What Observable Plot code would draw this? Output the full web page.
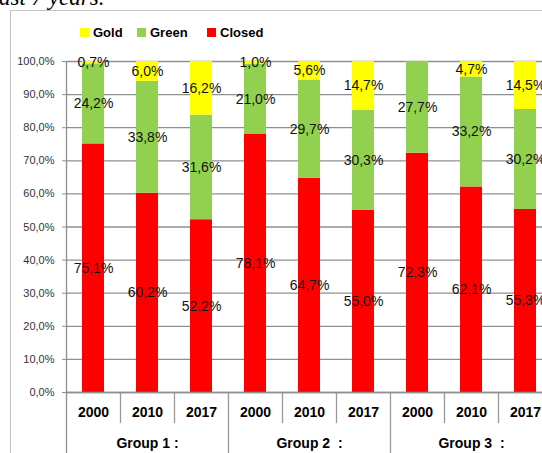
<!DOCTYPE html>
<html><head><meta charset="utf-8">
<script src="https://cdn.jsdelivr.net/npm/d3@7"></script>
<script src="https://cdn.jsdelivr.net/npm/@observablehq/plot@0.6"></script>
<style>
html,body{margin:0;padding:0;background:#fff;overflow:hidden;}
#wrap{position:relative;width:542px;height:453px;overflow:hidden;font-family:"Liberation Sans",Arial,sans-serif;}
#box{position:absolute;left:10px;top:10px;width:600px;height:500px;border:1px solid #c4c4c4;}
#above{position:absolute;left:-1px;top:-13px;font:italic 23px/22px "Liberation Serif",serif;white-space:nowrap;color:#000;}
.lg{position:absolute;top:26px;font-weight:bold;font-size:13px;line-height:14px;color:#000;white-space:nowrap;}
.sw{display:inline-block;width:9px;height:9px;margin-right:4px;vertical-align:0px;}
#chart{position:absolute;left:0;top:0;width:560px;height:453px;}
#chart svg{max-width:none !important;}
</style></head>
<body>
<div id="wrap">
  <div id="above">ast 7 years.</div>
  <div id="box"></div>
  <div id="legend"></div>
  <div id="chart"></div>
</div>
<script>
const groups = ["Group 1 :", "Group 2\u00a0\u00a0:", "Group 3\u00a0\u00a0:"];
const years = ["2000", "2010", "2017"];
const seriesNames = ["Gold", "Green", "Closed"];
const seriesColors = ["#ffff00", "#92d050", "#ff0000"];
const closed = [75.1, 60.2, 52.2, 78.1, 64.7, 55.0, 72.3, 62.1, 55.3];
const green  = [24.2, 33.8, 31.6, 21.0, 29.7, 30.3, 27.7, 33.2, 30.2];
const gold   = [0.7, 6.0, 16.2, 1.0, 5.6, 14.7, 0, 4.7, 14.5];
const yTicks = [0, 10, 20, 30, 40, 50, 60, 70, 80, 90, 100];

const locale = d3.formatLocale({decimal: ",", thousands: ".", grouping: [3], currency: ["", ""]});
const pct = locale.format(".1f");

const cats = [];
groups.forEach((g, gi) => years.forEach((y, yi) => cats.push({key: gi * 3 + yi, group: g, year: y, gi, yi})));

const rows = [];
cats.forEach((c, i) => {
  rows.push({key: c.key, series: "Closed", value: closed[i] / 100});
  rows.push({key: c.key, series: "Green", value: green[i] / 100});
  rows.push({key: c.key, series: "Gold", value: gold[i] / 100});
});
const labelRows = rows.filter(d => d.value > 0);

// legend
const legendX = [80, 137, 207];
const lg = document.getElementById("legend");
seriesNames.forEach((s, i) => {
  const el = document.createElement("div");
  el.className = "lg";
  el.style.left = legendX[i] + "px";
  el.innerHTML = `<span class="sw" style="background:${seriesColors[i]}"></span>${s}`;
  lg.appendChild(el);
});

const W = 560, H = 453, mL = 66, mR = 8, mT = 61, mB = 61;
const step = (W - mL - mR) / cats.length;
const stackOrder = ["Closed", "Green", "Gold"];

const chart = Plot.plot({
  width: W, height: H,
  marginLeft: mL, marginRight: mR, marginTop: mT, marginBottom: mB,
  style: {fontFamily: "Liberation Sans, Arial, sans-serif", fontSize: "11px", background: "transparent", maxWidth: "none"},
  x: {type: "band", domain: cats.map(c => c.key), paddingInner: 0.6, paddingOuter: 0.3, axis: null},
  y: {domain: [0, 1], axis: null, label: null},
  color: {domain: seriesNames, range: seriesColors},
  marks: [
    Plot.gridY(yTicks.map(t => t / 100), {stroke: "#8f8f8f", strokeOpacity: 1, strokeWidth: 1.3}),
    Plot.axisY(yTicks.map(t => t / 100), {label: null, tickFormat: d => pct(d * 100) + "%", tickSize: 4, tickPadding: 8,
      stroke: "#8f8f8f", fill: "#333", fontSize: 11}),
    // left axis line
    Plot.ruleX(cats.filter(c => c.key === 0), {x: "key", dx: -step / 2, y1: 1, y2: -0.2, stroke: "#8f8f8f", strokeWidth: 1.3}),
    // group separators
    Plot.ruleX(cats.filter(c => c.yi === 0 && c.key !== 0), {x: "key", dx: -step / 2, y1: 0, y2: -0.2, stroke: "#9a9a9a", strokeWidth: 1.3}),
    // year separators
    Plot.ruleX(cats.filter(c => c.yi !== 0), {x: "key", dx: -step / 2, y1: 0, y2: -0.094, stroke: "#9a9a9a", strokeWidth: 1.3}),
    Plot.barY(rows, Plot.stackY({order: stackOrder}, {x: "key", y: "value", fill: "series"})),
    Plot.ruleY([0], {stroke: "#8f8f8f", strokeWidth: 1.3}),
    Plot.text(labelRows, Plot.stackY({order: stackOrder}, {x: "key", y: "value", z: "series",
      text: d => pct(d.value * 100) + "%", fontSize: 14, fill: "#111"})),
    Plot.text(cats, {x: "key", text: "year", frameAnchor: "bottom", dy: 24, fontSize: 14, fontWeight: "bold", fill: "#000"}),
    Plot.text(cats.filter(c => c.yi === 1), {x: "key", text: "group", frameAnchor: "bottom", dy: 55, fontSize: 14, fontWeight: "bold", fill: "#000"})
  ]
});
chart.style.maxWidth = "none";
document.getElementById("chart").appendChild(chart);
</script>
</body></html>
